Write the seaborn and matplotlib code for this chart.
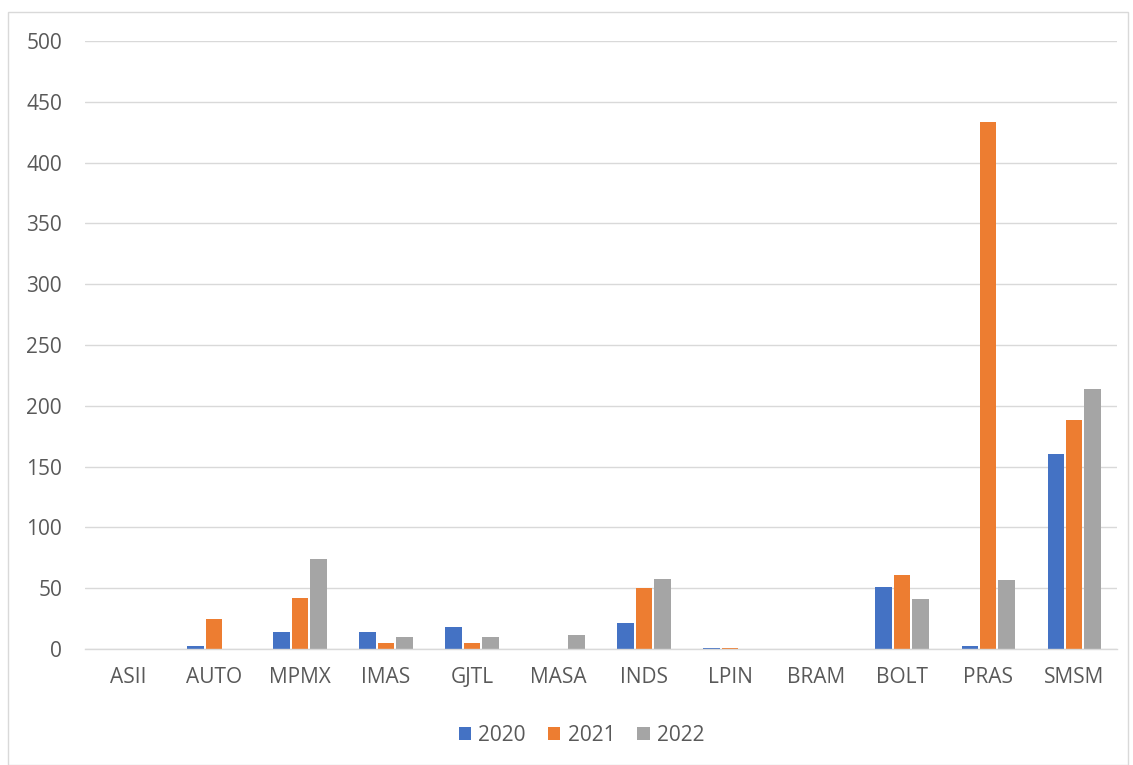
import matplotlib
matplotlib.use("Agg")
import matplotlib.pyplot as plt
import seaborn as sns
import pandas as pd
from matplotlib.patches import Rectangle

categories = ["ASII", "AUTO", "MPMX", "IMAS", "GJTL", "MASA", "INDS", "LPIN", "BRAM", "BOLT", "PRAS", "SMSM"]
years = ["2020", "2021", "2022"]
v2020 = [0.3, 2.5, 14, 14, 18, 0.3, 21, 0.5, 0.3, 51, 2.7, 160]
v2021 = [0.3, 24.4, 42, 5, 4.7, 0.3, 50, 0.5, 0.3, 60.6, 433.4, 188]
v2022 = [0.1, 0.3, 74, 10, 10, 11.5, 57.6, 0.3, 0.3, 40.8, 57, 213.5]
colors = ["#4472C4", "#ED7D31", "#A5A5A5"]

rows = []
for i, c in enumerate(categories):
    for y, vals in zip(years, [v2020, v2021, v2022]):
        rows.append({"cat": c, "year": y, "val": vals[i]})
df = pd.DataFrame(rows)

sns.set_theme(style="white")
plt.rcParams["font.family"] = ["Open Sans", "DejaVu Sans"]

fig = plt.figure(figsize=(11.33, 7.65), dpi=100)
ax = fig.add_axes([0.0750, 0.1516, 0.911, 0.7948])
sns.barplot(data=df, x="cat", y="val", hue="year", palette=colors, ax=ax,
            width=0.64, gap=0.1, errorbar=None, saturation=1, edgecolor="none")

ax.set_ylim(0, 500)
ax.set_yticks(range(0, 501, 50))
ax.yaxis.grid(True, color="#D9D9D9", linewidth=1)
ax.set_axisbelow(True)
for s in ["top", "right", "left"]:
    ax.spines[s].set_visible(False)
ax.spines["bottom"].set_color("#D9D9D9")
ax.spines["bottom"].set_linewidth(1)
ax.set_xlabel("")
ax.set_ylabel("")
ax.tick_params(axis="both", colors="#595959", labelsize=15, length=0)
ax.tick_params(axis="y", pad=16.5)
ax.tick_params(axis="x", pad=13)
ax.set_xlim(-0.5, 11.5)

leg = ax.legend(loc="center", bbox_to_anchor=(0.481, -0.142), ncol=3, frameon=False,
                fontsize=15, handlelength=0.6, handleheight=0.6, columnspacing=1.05,
                handletextpad=0.35)
for t in leg.get_texts():
    t.set_color("#595959")

fig.patches.append(Rectangle((0.007, 0.0), 0.989, 0.984, transform=fig.transFigure,
                             fill=False, edgecolor="#D9D9D9", linewidth=1))

fig.savefig("out.png", dpi=100)
